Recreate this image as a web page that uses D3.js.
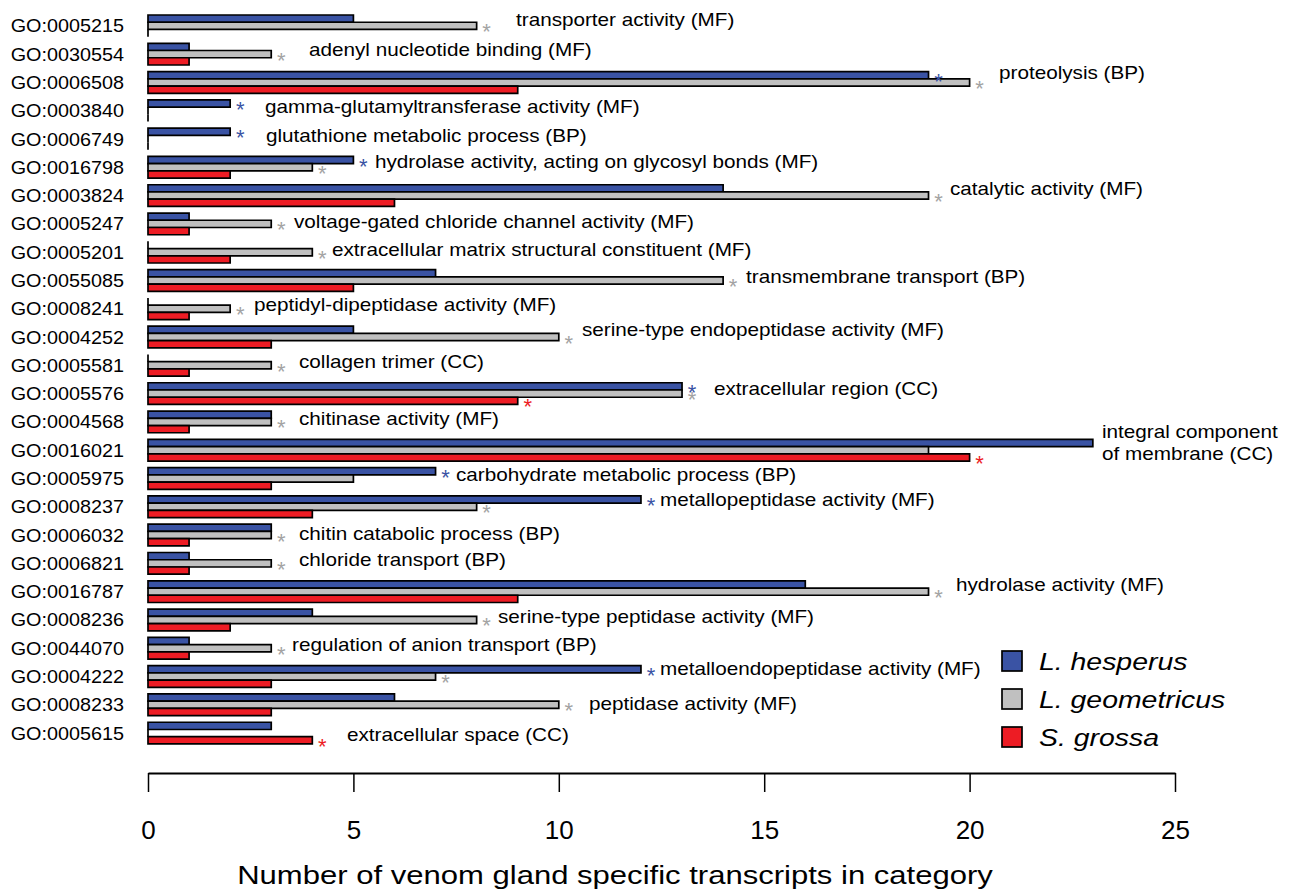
<!DOCTYPE html>
<html>
<head>
<meta charset="utf-8">
<script src="https://cdn.jsdelivr.net/npm/d3@7"></script>
<style>
  html, body { margin: 0; padding: 0; background: #fff; }
  svg { display: block; }
  text { font-family: "Liberation Sans", Arial, Helvetica, sans-serif; fill: #000; }
</style>
</head>
<body>
<svg id="chart" width="1291" height="894"></svg>
<script>
// ---------- data ----------
const categories = ["GO:0005215","GO:0030554","GO:0006508","GO:0003840","GO:0006749","GO:0016798","GO:0003824","GO:0005247","GO:0005201","GO:0055085","GO:0008241","GO:0004252","GO:0005581","GO:0005576","GO:0004568","GO:0016021","GO:0005975","GO:0008237","GO:0006032","GO:0006821","GO:0016787","GO:0008236","GO:0044070","GO:0004222","GO:0008233","GO:0005615"];
const descriptions = ["transporter activity (MF)","adenyl nucleotide binding (MF)","proteolysis (BP)","gamma-glutamyltransferase activity (MF)","glutathione metabolic process (BP)","hydrolase activity, acting on glycosyl bonds (MF)","catalytic activity (MF)","voltage-gated chloride channel activity (MF)","extracellular matrix structural constituent (MF)","transmembrane transport (BP)","peptidyl-dipeptidase activity (MF)","serine-type endopeptidase activity (MF)","collagen trimer (CC)","extracellular region (CC)","chitinase activity (MF)","integral component|of membrane (CC)","carbohydrate metabolic process (BP)","metallopeptidase activity (MF)","chitin catabolic process (BP)","chloride transport (BP)","hydrolase activity (MF)","serine-type peptidase activity (MF)","regulation of anion transport (BP)","metalloendopeptidase activity (MF)","peptidase activity (MF)","extracellular space (CC)"];
const seriesNames = ["L. hesperus","L. geometricus","S. grossa"];
const hesperus    = [5,1,19,2,2,5,14,1,0,7,0,5,0,13,3,23,7,12,3,1,16,4,1,12,6,3];
const geometricus = [8,3,20,0,0,4,19,3,4,14,2,10,3,13,3,19,5,8,3,3,19,8,3,7,10,0];
const grossa      = [0,1,9,0,0,2,6,1,2,5,1,3,1,9,1,20,3,4,1,1,9,2,1,3,3,4];
const sigHesperus    = [0,0,1,1,1,1,0,0,0,0,0,0,0,1,0,0,1,1,0,0,0,0,0,1,0,0];
const sigGeometricus = [1,1,1,0,0,1,1,1,1,1,1,1,1,1,1,0,0,1,1,1,1,1,1,1,1,0];
const sigGrossa      = [0,0,0,0,0,0,0,0,0,0,0,0,0,1,0,1,0,0,0,0,0,0,0,0,0,1];
const xTicks = [0,5,10,15,20,25];
const xTitle = "Number of venom gland specific transcripts in category";

// ---------- layout (annotation placement) ----------
const labelX  = [516,309,999,265,266,375,950,294,332,746,254,582,299,714,299,1102,456,660,299,299,956,498,292,660,589,347];
const labelDy = [-6,-4,-9,-4,-3,-5,-7,-2,-2,-3,-4,-7,-3,-5,-3,-18,-3.5,-7,-1,-3.5,-7,-3,-3,-8,-1,2];

const colors = ["#3a53a4","#c0c0c0","#ed1c24"];
const starColors = ["#3a53a4","#a3a3a3","#ed1c24"];
const values = [hesperus, geometricus, grossa];
const sigs = [sigHesperus, sigGeometricus, sigGrossa];

const svg = d3.select("#chart");

const x = d3.scaleLinear().domain([0,25]).range([148,1175]);
const y = d3.scaleBand().domain(categories).range([15,743.95]).paddingInner(0.233).paddingOuter(0);
const ySub = d3.scaleBand().domain(seriesNames).range([0, y.bandwidth()]).padding(0);

function sText(parent, tx, ty, str, size, sx, anchor, extra) {
  const g = parent.append("g").attr("transform", `translate(${tx},${ty}) scale(${sx},1)`);
  const t = g.append("text").attr("x",0).attr("y",0)
    .attr("font-size", size).attr("text-anchor", anchor || "start").text(str);
  if (extra) extra(t);
  return t;
}

// bars
const rows = svg.append("g").attr("class","rows");
categories.forEach((cat, i) => {
  const g = rows.append("g").attr("transform", `translate(0,${y(cat)})`);
  seriesNames.forEach((s, k) => {
    const v = values[k][i];
    const x0 = x(0), x1 = x(v);
    const y0 = ySub(s), h = ySub.bandwidth();
    g.append("path")
      .attr("d", `M${x0},${y0}H${x1}V${y0+h}H${x0}Z`)
      .attr("fill", colors[k])
      .attr("stroke", "#000")
      .attr("stroke-width", 1.7);
  });
});

// significance stars
const starSize = 22;
categories.forEach((cat, i) => {
  seriesNames.forEach((s, k) => {
    if (!sigs[k][i]) return;
    const cy = y(cat) + ySub(s) + ySub.bandwidth()/2 + 1;
    svg.append("text")
      .attr("x", x(values[k][i]) + 10)
      .attr("y", cy + 0.57*starSize)
      .attr("font-size", starSize)
      .attr("text-anchor","middle")
      .style("fill", starColors[k])
      .text("*");
  });
});

// GO labels
categories.forEach((cat) => {
  const cy = y(cat) + y.bandwidth()/2;
  sText(svg, 124, cy + 6.5, cat, 18, 1.1, "end");
});

// description labels
descriptions.forEach((d, i) => {
  const cy = y(categories[i]) + y.bandwidth()/2 + labelDy[i];
  const lines = d.split("|");
  lines.forEach((ln, j) => {
    sText(svg, labelX[i], cy + 6 + j*22, ln, 18, 1.15, "start");
  });
});

// x axis
const axisY = 773;
const axis = d3.axisBottom(x).tickValues(xTicks).tickSizeInner(19).tickSizeOuter(0).tickPadding(10).tickFormat(d3.format("d"));
const ag = svg.append("g").attr("transform", `translate(0,${axisY})`).call(axis);
ag.select(".domain").attr("stroke","#000").attr("stroke-width",2);
ag.selectAll(".tick line").attr("stroke","#000").attr("stroke-width",1.5);
ag.selectAll(".tick text")
  .attr("font-size", 26).attr("y", 66).attr("dy", null)
  .style("font-family", '"Liberation Sans", Arial, sans-serif').attr("fill","#000");

// axis title
const tt = sText(svg, 615, 884, xTitle, 26, 1, "middle");
const w = tt.node().getComputedTextLength();
tt.node().parentNode.setAttribute("transform", `translate(615,884) scale(${756/w},1)`);

// legend
const leg = svg.append("g");
seriesNames.forEach((s, k) => {
  const cy = 661 + k*38;
  leg.append("rect").attr("x",1002).attr("y",cy-10).attr("width",20).attr("height",20)
    .attr("fill", colors[k]).attr("stroke","#000").attr("stroke-width",1.7);
  sText(leg, 1039, cy + 9, s, 24.5, 1.16, "start", t => t.style("font-style","italic"));
});
</script>
</body>
</html>
